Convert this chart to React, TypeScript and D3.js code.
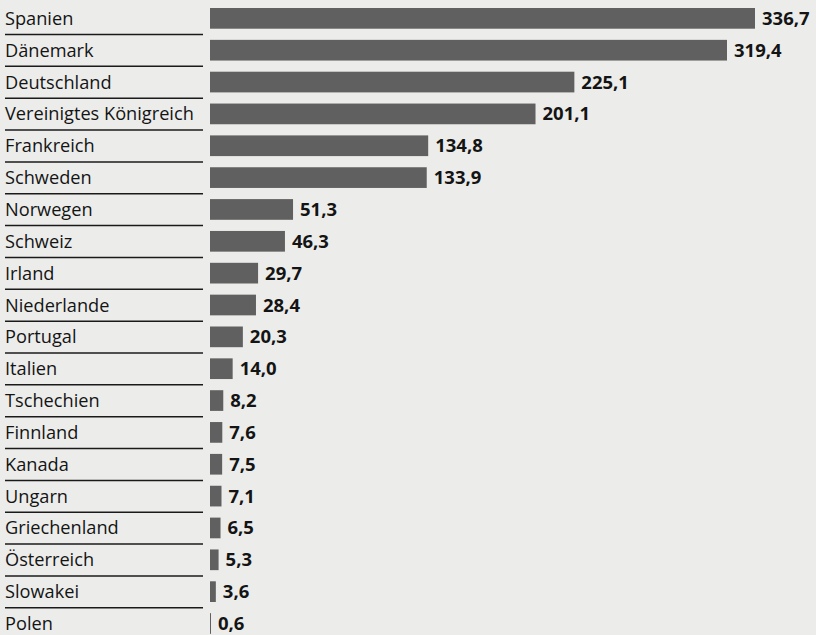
import React from "react";
import * as d3 from "d3";

const countries = [
  "Spanien", "Dänemark", "Deutschland", "Vereinigtes Königreich", "Frankreich",
  "Schweden", "Norwegen", "Schweiz", "Irland", "Niederlande", "Portugal",
  "Italien", "Tschechien", "Finnland", "Kanada", "Ungarn", "Griechenland",
  "Österreich", "Slowakei", "Polen",
];
const values = [
  336.7, 319.4, 225.1, 201.1, 134.8, 133.9, 51.3, 46.3, 29.7, 28.4, 20.3,
  14.0, 8.2, 7.6, 7.5, 7.1, 6.5, 5.3, 3.6, 0.6,
];

const W = 816;
const H = 635;
const BG = "#ecedeb";
const BAR = "#606060";
const TEXT = "#141414";

export default function App() {
  const x = d3.scaleLinear().domain([0, 336.7]).range([210, 755]);
  const y = d3
    .scaleBand<string>()
    .domain(countries)
    .range([8, 8 + 19 * 31.85 + 20.7])
    .paddingInner(0.35)
    .paddingOuter(0);
  const fmt = (v: number) => v.toFixed(1).replace(".", ",");
  const font = "'Open Sans', 'Noto Sans', sans-serif";

  return (
    <svg
      width={W}
      height={H}
      style={{ position: "absolute", left: 0, top: 0, background: BG }}
    >
      <rect x={0} y={0} width={W} height={H} fill={BG} />
      {countries.map((c, i) => {
        const y0 = y(c)!;
        const bw = y.bandwidth();
        const cy = y0 + bw / 2;
        const v = values[i];
        const w = Math.max(1, x(v) - x(0));
        return (
          <g key={c}>
            <text
              x={5}
              y={cy + 6.5}
              fontFamily={font}
              fontSize={18.2}
              fill={TEXT}
            >
              {c}
            </text>
            {i < countries.length - 1 && (
              <line
                x1={5}
                x2={203}
                y1={y0 + 26.5}
                y2={y0 + 26.5}
                stroke="#1a1a1a"
                strokeWidth={1.5}
              />
            )}
            <rect x={x(0)} y={y0} width={w} height={bw} fill={BAR} />
            <text
              x={x(0) + w + 7}
              y={cy + 6.5}
              fontFamily={font}
              fontSize={18.5}
              fontWeight={700}
              fill={TEXT}
            >
              {fmt(v)}
            </text>
          </g>
        );
      })}
    </svg>
  );
}
